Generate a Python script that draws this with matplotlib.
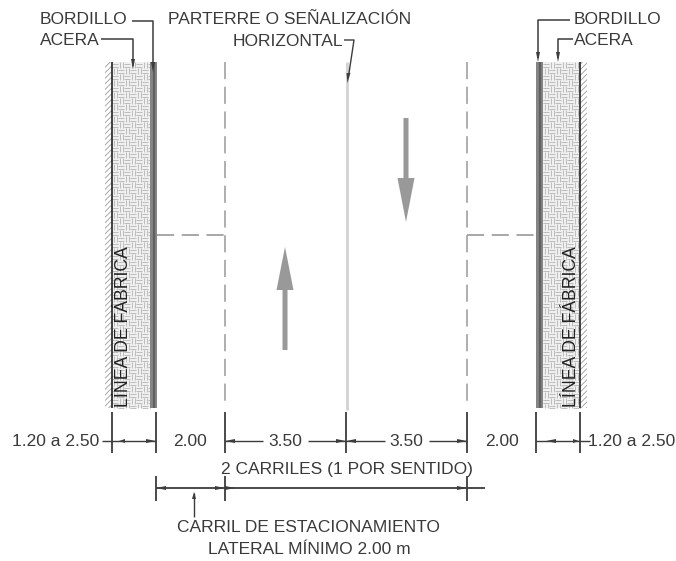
import matplotlib
matplotlib.use('Agg')
import matplotlib.pyplot as plt
from matplotlib.collections import LineCollection
from matplotlib.patches import Rectangle, Polygon

plt.rcParams['font.family'] = ['Liberation Sans', 'DejaVu Sans']
plt.rcParams['hatch.linewidth'] = 0.7

# cross-section positions (px)
lane_lines = [225, 467]
center_line = 347
top, bottom = 62, 408
dim_labels = ['1.20 a 2.50', '2.00', '3.50', '3.50', '2.00', '1.20 a 2.50']
dim_label_x = [56, 190, 285, 406, 502, 632]
dim_ticks = [112, 156, 225, 346, 467, 536, 580]
lower_ticks = [156, 225, 467]

TEXT = '#3a3a3a'
LINE = '#3c3c3c'
GREY = '#999999'
DASH = (0, (9.5, 4.2))

fig = plt.figure(figsize=(6.76, 5.61), dpi=100)
ax = fig.add_axes([0, 0, 1, 1])
ax.set_xlim(0, 676)
ax.set_ylim(561, 0)
ax.axis('off')


def label(x, y, s, ha='center', **kw):
    ax.text(x, y, s, ha=ha, va='center', fontsize=12.5, color=TEXT, **kw)


def line(xs, ys, lw=1.0, color=LINE, **kw):
    ax.plot(xs, ys, color=color, lw=lw, solid_capstyle='butt', **kw)


def head(x, y, dx, dy, size=10):
    # small filled arrow tip pointing in direction dx, dy
    ax.add_patch(Polygon([(x, y), (x - dx * size - dy * 2, y - dy * size - dx * 2),
                          (x - dx * size + dy * 2, y - dy * size + dx * 2)],
                         closed=True, color=LINE, lw=0, zorder=4))


def basket(x0, x1):
    # basket weave paving, alternating pairs of short strokes
    cell = 6
    segs = []
    y = top
    row = 0
    while y < bottom:
        x = x0
        col = 0
        while x < x1:
            xe = min(x + cell, x1)
            ye = min(y + cell, bottom)
            if (row + col) % 2 == 0:
                segs += [[(x, y + 1.5), (xe, y + 1.5)], [(x, min(y + 4.5, ye)), (xe, min(y + 4.5, ye))]]
            else:
                segs += [[(min(x + 1.5, xe), y), (min(x + 1.5, xe), ye)], [(min(x + 4.5, xe), y), (min(x + 4.5, xe), ye)]]
            x += cell
            col += 1
        y += cell
        row += 1
    ax.add_collection(LineCollection(segs, colors='#b4b4b4', linewidths=0.6, zorder=1))


def sidewalk(x_side, w_side, x_curb, w_curb, x_wall, x_hatch, x_text):
    ax.add_patch(Rectangle((x_side, top), w_side, bottom - top, facecolor='#f0f0f0', lw=0, zorder=0))
    basket(x_side, x_side + w_side)
    ax.add_patch(Rectangle((x_curb, top), w_curb, bottom - top, color='#858585', lw=0, zorder=2))
    line([x_curb + w_curb / 2, x_curb + w_curb / 2], [top, bottom], lw=1.6, color='#606060', zorder=2)
    ax.add_patch(Rectangle((x_hatch, top), 7, bottom - top, facecolor='white',
                           edgecolor='#a8a8a8', hatch='//////', lw=0, zorder=2))
    line([x_wall, x_wall], [top, bottom], lw=1.2, color='#222222', zorder=3)
    ax.text(x_text, 327, 'LÍNEA DE FÁBRICA', rotation=90, ha='center', va='center',
            fontsize=12.7, color='#222222', zorder=5)


sidewalk(112, 38, 150, 7, 112, 105, 123)
sidewalk(543, 37, 536, 7, 580, 580, 572)

# lane edges and centre
for x in lane_lines:
    line([x, x], [62, 408], lw=1.3, color='#a8a8a8', linestyle=DASH)
line([center_line, center_line], [62, 410], lw=2.0, color='#d2d2d2')
line([157, 225], [235, 235], lw=1.3, color='#a0a0a0', linestyle=DASH)
line([467, 536], [235, 235], lw=1.3, color='#a0a0a0', linestyle=DASH)

# traffic arrows
ax.add_patch(Polygon([(285, 247), (293.5, 290), (287.5, 290), (287.5, 350), (282.5, 350), (282.5, 290), (276.5, 290)],
                     closed=True, color=GREY, lw=0))
ax.add_patch(Polygon([(406, 222), (414.5, 178), (408.5, 178), (408.5, 118), (403.5, 118), (403.5, 178), (397.5, 178)],
                     closed=True, color=GREY, lw=0))

# top labels and leaders
label(40, 19, 'BORDILLO', ha='left')
label(40, 40, 'ACERA', ha='left')
line([132, 153, 153], [21, 21, 68], lw=1.1, zorder=4)
head(153, 72, 0, 1)
line([101, 133, 133], [39, 39, 66], lw=1.1, zorder=4)
head(133, 69, 0, 1)
label(290, 19, 'PARTERRE O SEÑALIZACIÓN')
label(288, 41, 'HORIZONTAL')
line([344, 354, 349], [40, 40, 73], lw=1.0)
head(347.5, 83, -0.1, 1)

label(574, 19, 'BORDILLO', ha='left')
label(574, 40, 'ACERA', ha='left')
line([570, 538, 538], [20, 20, 58], lw=1.1)
head(538, 62, 0, 1)
line([573, 558, 558], [39, 39, 58], lw=1.1)
head(558, 62, 0, 1)

# dimension row
for x in dim_ticks:
    line([x, x], [412, 453], lw=1.3)
for x, s in zip(dim_label_x, dim_labels):
    label(x, 441, s)
line([102, 156], [441, 441])
head(156, 441, 1, 0)
head(119, 441, -1, 0, 6)
line([225, 263], [441, 441])
head(225, 441, -1, 0)
line([308, 346], [441, 441])
head(346, 441, 1, 0)
line([346, 385], [441, 441])
head(346, 441, -1, 0)
line([429, 467], [441, 441])
head(467, 441, 1, 0)
line([536, 590], [441, 441])
head(546, 441, -1, 0)
head(579, 441, 1, 0, 6)

# lower dimension
label(347, 469, '2 CARRILES (1 POR SENTIDO)')
line([156, 485], [488, 488], lw=1.3)
for x in lower_ticks:
    line([x, x], [476, 501], lw=1.3)
head(156, 488, -1, 0)
head(225, 488, 1, 0)
head(235, 488, 1, 0)
head(467, 488, 1, 0)
line([194, 194], [493, 517], lw=1.0)
head(194, 492, 0, -1, 7)
label(308, 527, 'CARRIL DE ESTACIONAMIENTO')
label(309, 550, 'LATERAL MÍNIMO 2.00 m')

fig.savefig('out.png', dpi=100)
